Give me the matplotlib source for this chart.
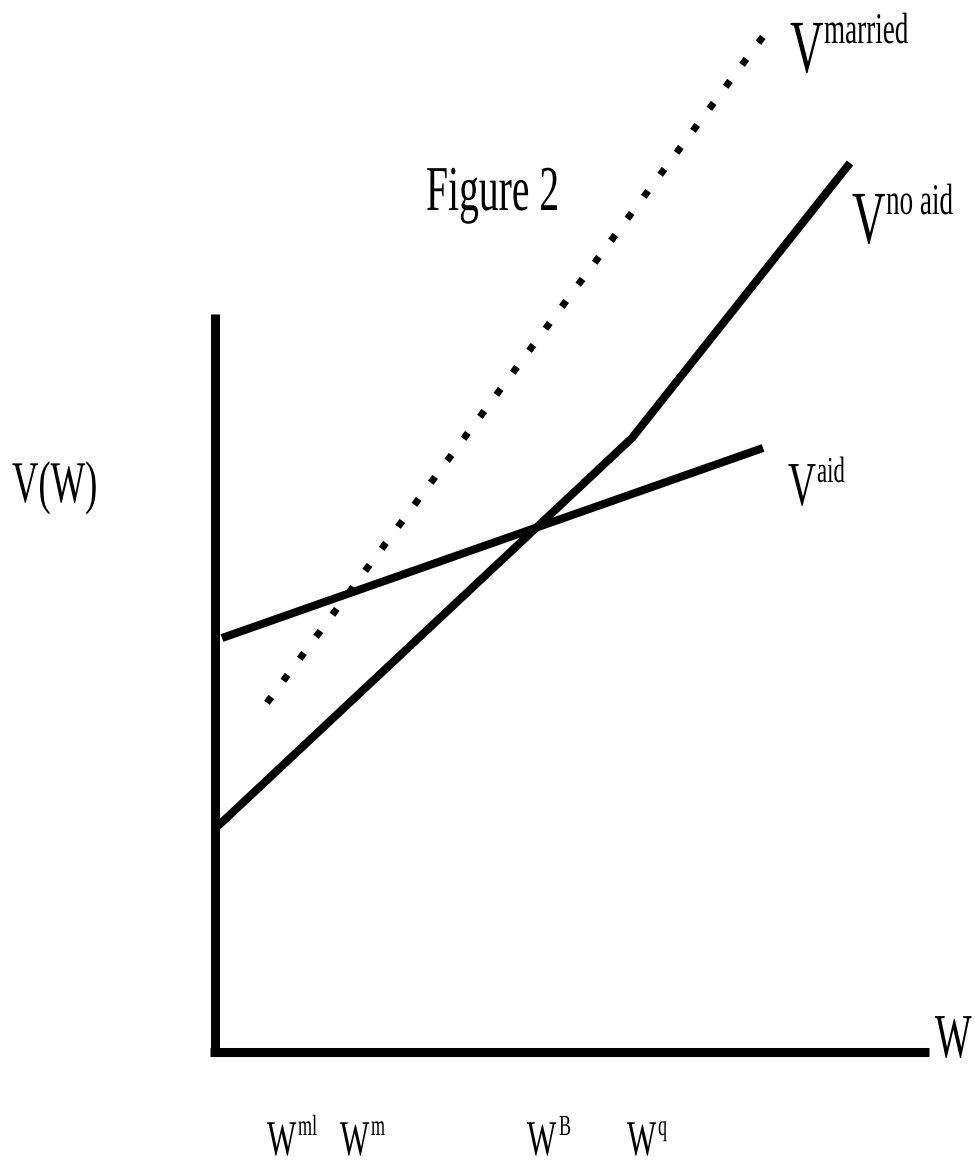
import matplotlib
matplotlib.use("Agg")
import matplotlib.pyplot as plt
from matplotlib.patheffects import AbstractPathEffect
from matplotlib.transforms import Affine2D

plt.rcParams["font.family"] = ["Liberation Serif", "DejaVu Serif"]

# drawing coordinates, in pixels of the original sketch (y grows downwards)
axis_v_x = [214.5, 214.5]
axis_v_y = [314, 1056]
axis_h_x = [210, 929]
axis_h_y = [1051.5, 1051.5]

aid_x = [222, 763]
aid_y = [638, 448]

noaid_x = [218, 632, 850]
noaid_y = [826, 438, 163]

married_x = [269, 762]
married_y = [700, 38]

# labels: text, left x, baseline y, size in pt (as seen)
label_text = ["Figure 2", "V(W)", "W",
              "V", "married", "V", "no aid", "V", "aid",
              "W", "ml", "W", "m", "W", "B", "W", "q"]
label_x = [426, 12, 935,
           790, 824, 852, 886, 788, 817,
           267, 298, 340, 371, 527, 559, 627, 658]
label_y = [210, 502, 1057,
           72, 43, 243, 214, 505, 482,
           1155, 1135, 1155, 1135, 1155, 1135, 1155, 1135]
label_size = [46, 42.5, 45,
              54, 31.5, 54, 31.5, 45, 26.5,
              36, 21, 36, 21, 36, 21, 36, 21]

SX = 0.62  # the original uses a condensed Times: narrow size, taller glyphs


class Stretch(AbstractPathEffect):
    # stretch the glyphs vertically around the baseline
    def __init__(self, sy):
        super().__init__()
        self.sy = sy

    def draw_path(self, renderer, gc, tpath, affine, rgbFace=None):
        m = affine.get_matrix()
        x0, y0 = m[0, 2], m[1, 2]
        tall = Affine2D().translate(-x0, -y0).scale(1, self.sy).translate(x0, y0)
        renderer.draw_path(gc, tpath, affine + tall, rgbFace)


fig = plt.figure(figsize=(9.75, 11.63), dpi=100)
ax = fig.add_axes([0, 0, 1, 1])
ax.set_xlim(0, 975)
ax.set_ylim(1163, 0)
ax.axis("off")

ax.plot(axis_v_x, axis_v_y, color="black", lw=6.5, solid_capstyle="butt")
ax.plot(axis_h_x, axis_h_y, color="black", lw=6.5, solid_capstyle="butt")

ax.plot(aid_x, aid_y, color="black", lw=5.8, solid_capstyle="butt")
ax.plot(noaid_x, noaid_y, color="black", lw=5.8, solid_capstyle="butt",
        solid_joinstyle="round")

# square dots, 30 gaps along the segment
ax.plot(married_x, married_y, color="black", lw=5.0,
        linestyle=(0, (0.05, 3.90)), dash_capstyle="projecting")

for t, x, y, s in zip(label_text, label_x, label_y, label_size):
    ax.text(x, y, t, fontsize=s * SX, ha="left", va="baseline",
            path_effects=[Stretch(1 / SX)])

fig.savefig("out.png", dpi=100)
